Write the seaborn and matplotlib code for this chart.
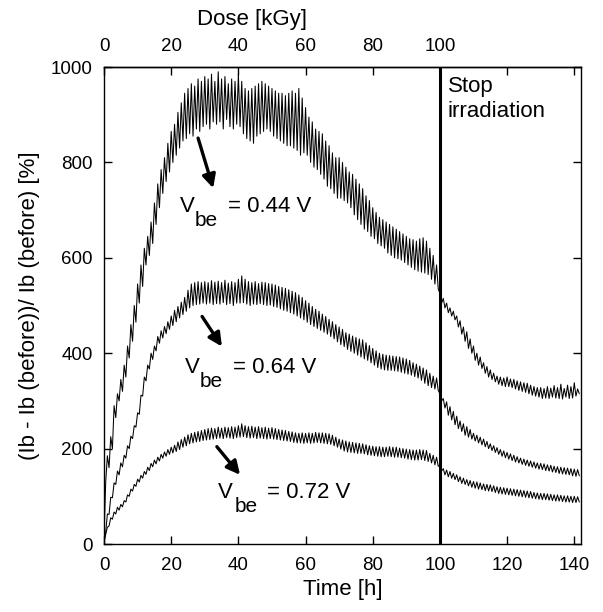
import numpy as np
import pandas as pd
import matplotlib
matplotlib.use("Agg")
import matplotlib.pyplot as plt
import seaborn as sns

# ---------------- data ----------------
time_step_h = 0.5  # samples every half hour, starting at t = 0 h

vbe_044 = [
    15, 130, 185, 160, 225, 200, 290, 265, 315, 300, 345, 320, 375, 350, 415, 390, 460, 425, 500, 465,
    545, 505, 585, 540, 620, 585, 645, 605, 675, 630, 715, 670, 755, 705, 785, 735, 810, 760, 840, 780,
    865, 800, 880, 815, 905, 830, 925, 845, 945, 850, 955, 860, 965, 855, 960, 870, 975, 865, 970, 875,
    980, 880, 975, 870, 985, 885, 970, 880, 990, 885, 975, 870, 980, 890, 965, 875, 975, 870, 970, 880,
    985, 875, 970, 860, 955, 850, 950, 845, 955, 840, 960, 855, 965, 860, 970, 865, 965, 870, 960, 865,
    955, 855, 950, 850, 945, 845, 945, 840, 940, 835, 945, 835, 950, 830, 945, 825, 955, 815, 935, 820,
    915, 815, 895, 800, 885, 790, 870, 785, 865, 775, 860, 765, 845, 750, 835, 745, 820, 735, 810, 725,
    810, 725, 800, 720, 790, 715, 780, 705, 775, 690, 765, 680, 755, 670, 745, 660, 730, 655, 720, 645,
    705, 640, 695, 630, 685, 625, 680, 620, 675, 610, 670, 605, 665, 600, 660, 598, 655, 595, 650, 590,
    645, 585, 640, 580, 638, 575, 635, 572, 640, 570, 642, 568, 635, 565, 620, 555, 605, 545, 585, 535,
    525, 505, 515, 495, 505, 485, 495, 478, 488, 470, 478, 455, 468, 440, 455, 425, 445, 410, 430, 400,
    415, 385, 400, 375, 392, 368, 380, 358, 372, 350, 365, 345, 358, 340, 352, 335, 350, 332, 348, 330,
    350, 330, 346, 328, 345, 325, 342, 322, 340, 320, 338, 318, 337, 315, 333, 312, 330, 310, 328, 308,
    328, 305, 326, 306, 330, 305, 327, 308, 332, 306, 328, 305, 335, 304, 326, 308, 333, 305, 330, 306,
    338, 310, 325, 315,
]

vbe_064 = [
    5, 25, 63, 62, 98, 97, 128, 125, 153, 145, 170, 162, 186, 180, 206, 200, 226, 221, 248, 245,
    275, 272, 312, 310, 350, 342, 375, 367, 400, 387, 415, 405, 435, 421, 447, 432, 456, 441, 466, 450,
    478, 458, 490, 466, 498, 474, 507, 481, 517, 488, 532, 495, 545, 500, 548, 502, 550, 503, 548, 505,
    550, 503, 548, 505, 552, 502, 549, 504, 551, 503, 548, 506, 553, 502, 547, 504, 550, 500, 548, 505,
    555, 505, 562, 506, 555, 503, 550, 500, 548, 503, 550, 502, 546, 504, 549, 502, 548, 500, 546, 501,
    545, 498, 543, 496, 540, 493, 538, 490, 536, 488, 533, 485, 530, 482, 527, 478, 522, 474, 517, 470,
    510, 465, 505, 460, 498, 456, 492, 452, 488, 448, 482, 444, 477, 440, 471, 435, 466, 430, 460, 424,
    455, 418, 450, 414, 443, 408, 440, 404, 436, 400, 433, 396, 430, 392, 428, 388, 422, 385, 416, 380,
    410, 375, 405, 370, 400, 367, 398, 365, 396, 364, 395, 364, 394, 363, 393, 362, 392, 360, 390, 358,
    388, 356, 385, 354, 380, 351, 377, 348, 373, 343, 369, 337, 365, 332, 358, 328, 352, 325, 348, 322,
    315, 300, 305, 285, 298, 270, 288, 260, 278, 250, 268, 242, 258, 236, 252, 228, 246, 224, 240, 220,
    232, 216, 228, 212, 224, 208, 220, 204, 215, 200, 210, 196, 206, 192, 202, 188, 198, 184, 195, 181,
    192, 178, 189, 175, 186, 172, 183, 170, 180, 167, 178, 165, 176, 163, 174, 161, 172, 159, 170, 157,
    169, 156, 168, 154, 166, 153, 165, 151, 163, 150, 162, 148, 161, 147, 160, 146, 159, 145, 158, 143,
    157, 142, 156, 143,
]

vbe_072 = [
    5, 20, 35, 38, 55, 52, 67, 63, 77, 71, 83, 78, 91, 88, 103, 100, 115, 111, 125, 121,
    136, 130, 144, 138, 152, 146, 161, 154, 169, 162, 176, 168, 182, 174, 188, 180, 193, 184, 198, 188,
    203, 191, 207, 194, 214, 198, 219, 203, 224, 206, 229, 210, 232, 212, 234, 214, 236, 215, 238, 217,
    240, 218, 242, 219, 243, 220, 242, 221, 245, 222, 243, 221, 245, 223, 244, 222, 246, 221, 245, 223,
    248, 224, 252, 225, 248, 223, 246, 222, 247, 223, 245, 221, 246, 222, 244, 221, 245, 220, 243, 221,
    244, 220, 242, 219, 240, 218, 239, 217, 238, 216, 236, 215, 235, 213, 233, 212, 232, 212, 233, 211,
    232, 212, 233, 211, 232, 212, 234, 213, 233, 212, 233, 211, 232, 210, 231, 209, 228, 206, 224, 203,
    220, 199, 218, 195, 216, 193, 214, 192, 213, 191, 212, 190, 211, 190, 210, 189, 208, 187, 206, 186,
    205, 185, 204, 184, 204, 183, 203, 183, 203, 184, 204, 183, 203, 182, 203, 182, 201, 181, 200, 180,
    199, 178, 198, 177, 197, 176, 197, 176, 198, 177, 197, 175, 196, 173, 190, 170, 186, 166, 182, 163,
    165, 153, 158, 145, 155, 141, 152, 138, 148, 135, 145, 131, 141, 127, 138, 125, 135, 122, 133, 119,
    131, 117, 130, 115, 128, 114, 126, 112, 125, 111, 124, 110, 122, 108, 120, 106, 119, 105, 118, 104,
    117, 103, 116, 102, 115, 101, 114, 100, 113, 99, 112, 98, 111, 97, 110, 96, 108, 95, 107, 94,
    106, 93, 106, 93, 105, 92, 104, 91, 103, 90, 103, 90, 102, 89, 101, 88, 101, 88, 100, 87,
    100, 87, 99, 88,
]

series_names = ["0.44 V", "0.64 V", "0.72 V"]
series_values = [vbe_044, vbe_064, vbe_072]

x_ticks = [0, 20, 40, 60, 80, 100, 120, 140]
dose_labels = ["0", "20", "40", "60", "80", "100", "", ""]
y_ticks = [0, 200, 400, 600, 800, 1000]
stop_time = 100

# ---------------- build long table ----------------
frames = []
for name, vals in zip(series_names, series_values):
    t = np.arange(len(vals)) * time_step_h
    frames.append(pd.DataFrame({"Time": t, "Value": vals, "Vbe": name}))
df = pd.concat(frames, ignore_index=True)

# ---------------- style ----------------
sns.set_theme(style="ticks")
plt.rcParams["font.family"] = ["Liberation Sans", "DejaVu Sans"]
for key in ["text.color", "axes.labelcolor", "xtick.color", "ytick.color", "axes.edgecolor"]:
    plt.rcParams[key] = "black"
plt.rcParams["axes.linewidth"] = 1.0

fig = plt.figure(figsize=(6.03, 6.12), dpi=100)
fig.patch.set_facecolor("white")
ax = fig.add_axes([0.1725, 0.1111, 0.791, 0.7794])

sns.lineplot(data=df, x="Time", y="Value", hue="Vbe", units="Vbe",
             estimator=None, sort=False, legend=False,
             palette=["black", "black", "black"], linewidth=0.75, ax=ax)

ax.axvline(stop_time, color="black", lw=2.2)

ax.set_xlim(0, 142)
ax.set_ylim(0, 1000)
ax.set_xticks(x_ticks)
ax.set_yticks(y_ticks)
ax.tick_params(axis="both", direction="in", length=6, width=1, colors="black",
               labelsize=13.5, right=True, top=False)
ax.tick_params(axis="x", pad=9)
ax.tick_params(axis="y", pad=8)
ax.set_xlabel("Time [h]", fontsize=16, labelpad=4, color="black")
ax.set_ylabel("(Ib - Ib (before))/ Ib (before) [%]", fontsize=16, labelpad=8, color="black")

sec = ax.secondary_xaxis("top")
sec.set_xticks(x_ticks)
sec.set_xticklabels(dose_labels)
sec.tick_params(direction="in", length=6, width=1, labelsize=13.5, pad=9, colors="black")
fig.text(252 / 603, 1 - 19 / 612, "Dose [kGy]", fontsize=16, ha="center", va="center",
         color="black")

for s in ax.spines.values():
    s.set_color("black")
    s.set_linewidth(1.0)

# ---------------- annotations ----------------
def vlabel(x, y, value, be_dx, eq_dx):
    ax.annotate("V", xy=(x, y), xycoords="data", fontsize=16, ha="left", va="baseline")
    ax.annotate("be", xy=(x, y), xycoords="data", xytext=(be_dx, -14),
                textcoords="offset pixels", fontsize=15, ha="left", va="baseline")
    ax.annotate("= " + value, xy=(x, y), xycoords="data", xytext=(eq_dx, 0),
                textcoords="offset pixels", fontsize=16, ha="left", va="baseline")

vlabel(22.6, 695, "0.44 V", 15, 48)
vlabel(24.1, 359, "0.64 V", 15, 48)
vlabel(33.9, 97, "0.72 V", 17, 49)

arrow_kw = dict(arrowstyle="-|>", lw=2.4, color="black", mutation_scale=20,
                shrinkA=0, shrinkB=0)
ax.annotate("", xy=(32.5, 746), xytext=(28.0, 851), arrowprops=arrow_kw)
ax.annotate("", xy=(35.1, 414), xytext=(29.2, 477), arrowprops=arrow_kw)
ax.annotate("", xy=(40.5, 145), xytext=(33.6, 204), arrowprops=arrow_kw)

ax.text(102.4, 981, "Stop\nirradiation", fontsize=16, ha="left", va="top",
        linespacing=1.25)

fig.savefig("out.png", dpi=100, facecolor="white")
